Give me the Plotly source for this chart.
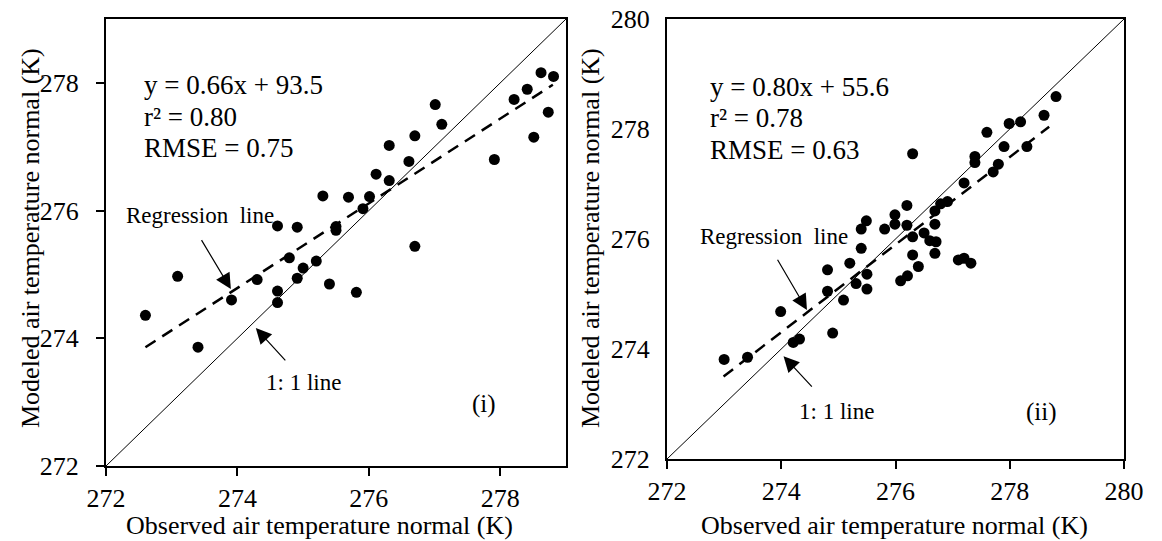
import plotly.graph_objects as go

# ---------------- data ----------------
# Panel (i)
obs_i = [278.62, 278.81, 278.41, 278.21, 278.73, 278.51, 277.91, 277.01, 277.11, 276.70,
         276.61, 276.31, 276.31, 276.11, 276.70, 276.01, 275.69, 275.30, 275.91, 275.50,
         275.50, 274.91, 274.61, 274.79, 275.00, 275.20, 273.09, 274.30, 274.91, 274.61,
         274.61, 275.40, 275.81, 273.91, 272.60, 273.40]
mod_i = [278.16, 278.10, 277.90, 277.74, 277.54, 277.15, 276.80, 277.66, 277.35, 277.17,
         276.77, 277.02, 276.47, 276.57, 275.44, 276.22, 276.21, 276.23, 276.03, 275.75,
         275.69, 275.74, 275.76, 275.26, 275.10, 275.21, 274.97, 274.92, 274.94, 274.74,
         274.56, 274.85, 274.72, 274.60, 274.36, 273.86]
reg_i_x = [272.6, 278.8]
reg_i_y = [273.86, 277.97]
one_i = [272, 279]

# Panel (ii)
obs_ii = [278.81, 278.60, 278.19, 277.99, 277.60, 278.30, 277.90, 276.30, 277.39, 277.39,
          277.80, 277.71, 277.20, 276.91, 276.79, 276.69, 276.20, 275.99, 275.49, 275.40,
          275.81, 275.99, 276.20, 276.69, 276.30, 276.50, 276.60, 276.71, 275.40, 276.30,
          276.69, 275.20, 276.40, 277.10, 277.20, 277.32, 274.81, 275.50, 275.31, 276.09,
          276.21, 274.81, 275.50, 275.09, 273.99, 274.90, 274.21, 274.32, 273.41, 273.00]
mod_ii = [278.59, 278.25, 278.13, 278.10, 277.94, 277.68, 277.68, 277.55, 277.50, 277.39,
          277.36, 277.22, 277.02, 276.68, 276.64, 276.51, 276.61, 276.44, 276.33, 276.18,
          276.18, 276.27, 276.25, 276.27, 276.04, 276.11, 275.97, 275.95, 275.83, 275.71,
          275.74, 275.56, 275.50, 275.62, 275.65, 275.56, 275.44, 275.36, 275.19, 275.24,
          275.33, 275.05, 275.09, 274.89, 274.68, 274.29, 274.12, 274.18, 273.85, 273.81]
reg_ii_x = [272.99, 278.69]
reg_ii_y = [273.50, 278.04]
one_ii = [272, 280]

ticks_i_x = [272, 274, 276, 278]
ticks_i_y = [272, 274, 276, 278]
ticks_ii = [272, 274, 276, 278, 280]

stats_i = ["y = 0.66x + 93.5", "r² = 0.80", "RMSE = 0.75"]
stats_ii = ["y = 0.80x + 55.6", "r² = 0.78", "RMSE = 0.63"]
x_title = "Observed air temperature normal (K)"
y_title = "Modeled air temperature normal (K)"

# ---------------- figure ----------------
FONT = "Liberation Serif"
W, H = 1162, 541

fig = go.Figure()

def add_panel(xa, ya, obs, mod, rx, ry, one):
    fig.add_trace(go.Scatter(x=one, y=one, mode="lines", xaxis=xa, yaxis=ya,
                             line=dict(color="black", width=1), showlegend=False, hoverinfo="skip"))
    fig.add_trace(go.Scatter(x=rx, y=ry, mode="lines", xaxis=xa, yaxis=ya,
                             line=dict(color="black", width=2.5, dash="12px,8px"),
                             showlegend=False, hoverinfo="skip"))
    fig.add_trace(go.Scatter(x=obs, y=mod, mode="markers", xaxis=xa, yaxis=ya,
                             marker=dict(color="black", size=11, line=dict(width=0)),
                             showlegend=False))

add_panel("x", "y", obs_i, mod_i, reg_i_x, reg_i_y, one_i)
add_panel("x2", "y2", obs_ii, mod_ii, reg_ii_x, reg_ii_y, one_ii)

axis_common = dict(showline=True, linecolor="black", linewidth=2, mirror=True,
                   showgrid=False, zeroline=False, automargin=False,
                   tickfont=dict(family=FONT, size=26, color="black"),
                   ticks="outside", ticklen=8, tickwidth=1.5, tickcolor="black")

fig.update_layout(
    width=W, height=H,
    margin=dict(l=0, r=0, t=0, b=0),
    paper_bgcolor="white", plot_bgcolor="white",
    font=dict(family=FONT, color="black"),
    xaxis=dict(domain=[106 / W, 566 / W], range=[272, 279], tickvals=ticks_i_x,
               anchor="y", ticklabelstandoff=0, **axis_common),
    yaxis=dict(domain=[1 - 466 / H, 1 - 19 / H], range=[272, 279], tickvals=ticks_i_y,
               anchor="x", ticklabelstandoff=12, **axis_common),
    xaxis2=dict(domain=[667 / W, 1124 / W], range=[272, 280], tickvals=ticks_ii,
                anchor="y2", ticklabelstandoff=0, **axis_common),
    yaxis2=dict(domain=[1 - 459 / H, 1 - 19 / H], range=[272, 280], tickvals=ticks_ii,
                anchor="x2", ticklabelstandoff=10, **{**axis_common, "ticks": "", "ticklen": 0}),
)

ann = []
stat_font = dict(family=FONT, size=27)
for txt, yv in zip(stats_i, [277.97, 277.46, 276.98]):
    ann.append(dict(x=272.55, y=yv, xref="x", yref="y", text=txt, showarrow=False,
                    xanchor="left", yanchor="middle", font=stat_font))
for txt, yv in zip(stats_ii, [278.76, 278.20, 277.62]):
    ann.append(dict(x=272.72, y=yv, xref="x2", yref="y2", text=txt, showarrow=False,
                    xanchor="left", yanchor="middle", font=stat_font))

lab_font = dict(family=FONT, size=23)
ann += [
    dict(x=272.27, y=275.92, xref="x", yref="y", text="Regression  line", showarrow=False,
         xanchor="left", yanchor="middle", font=lab_font),
    dict(x=274.41, y=273.31, xref="x", yref="y", text="1: 1 line", showarrow=False,
         xanchor="left", yanchor="middle", font=lab_font),
    dict(x=277.75, y=272.97, xref="x", yref="y", text="(i)", showarrow=False,
         xanchor="center", yanchor="middle", font=dict(family=FONT, size=25)),
    dict(x=272.54, y=276.05, xref="x2", yref="y2", text="Regression  line", showarrow=False,
         xanchor="left", yanchor="middle", font=lab_font),
    dict(x=274.28, y=272.86, xref="x2", yref="y2", text="1: 1 line", showarrow=False,
         xanchor="left", yanchor="middle", font=lab_font),
    dict(x=278.55, y=272.86, xref="x2", yref="y2", text="(ii)", showarrow=False,
         xanchor="center", yanchor="middle", font=dict(family=FONT, size=25)),
]

arrow_style = dict(text="", showarrow=True, arrowhead=2, arrowsize=2.6, arrowwidth=1.2,
                   arrowcolor="black", standoff=0, startstandoff=0)
ann += [
    dict(x=273.90, y=274.77, ax=273.44, ay=275.56, xref="x", yref="y", axref="x", ayref="y", **arrow_style),
    dict(x=274.28, y=274.16, ax=274.75, ay=273.63, xref="x", yref="y", axref="x", ayref="y", **arrow_style),
    dict(x=274.45, y=274.71, ax=273.92, ay=275.65, xref="x2", yref="y2", axref="x2", ayref="y2", **arrow_style),
    dict(x=274.04, y=273.87, ax=274.56, ay=273.29, xref="x2", yref="y2", axref="x2", ayref="y2", **arrow_style),
]

title_font = dict(family=FONT, size=26)
ann += [
    dict(x=320 / W, y=0, xref="paper", yref="paper", text=x_title, showarrow=False,
         xanchor="center", yanchor="bottom", borderpad=0, font=title_font),
    dict(x=894 / W, y=0, xref="paper", yref="paper", text=x_title, showarrow=False,
         xanchor="center", yanchor="bottom", borderpad=0, font=title_font),
    dict(x=30 / W, y=1 - 238 / H, xref="paper", yref="paper", text=y_title, showarrow=False,
         textangle=-90, xanchor="center", yanchor="middle", font=title_font),
    dict(x=590 / W, y=1 - 238 / H, xref="paper", yref="paper", text=y_title, showarrow=False,
         textangle=-90, xanchor="center", yanchor="middle", font=title_font),
]

fig.update_layout(annotations=ann)
fig.write_html("out.html", config={"displayModeBar": False},
               post_script="document.body.style.margin='0';document.body.style.overflow='hidden';")
